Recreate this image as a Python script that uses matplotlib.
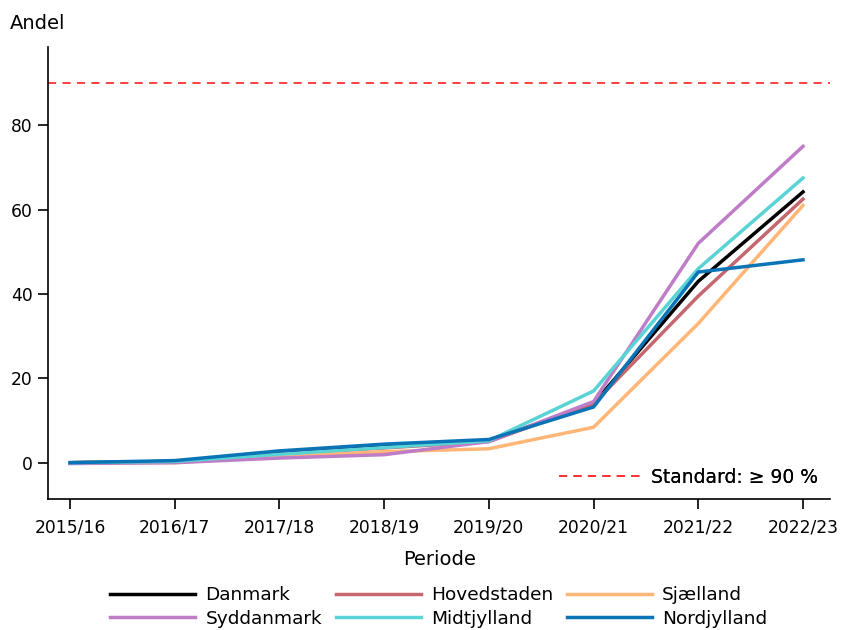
import matplotlib.pyplot as plt
from matplotlib.lines import Line2D

perioder = ["2015/16", "2016/17", "2017/18", "2018/19", "2019/20", "2020/21", "2021/22", "2022/23"]

danmark = [0.0, 0.3, 2.4, 3.9, 5.2, 14.0, 43.0, 64.2]
hovedstaden = [0.0, 0.2, 2.0, 3.5, 5.0, 14.0, 39.5, 62.5]
sjaelland = [0.0, 0.0, 1.6, 2.6, 3.3, 8.4, 33.0, 61.0]
syddanmark = [-0.2, 0.0, 1.1, 1.9, 5.0, 14.5, 52.0, 75.0]
midtjylland = [0.0, 0.3, 2.0, 3.6, 5.2, 17.0, 46.0, 67.5]
nordjylland = [0.0, 0.5, 2.8, 4.4, 5.5, 13.2, 45.2, 48.1]

standard = 90

serier = [
    ("Danmark", danmark, "black"),
    ("Hovedstaden", hovedstaden, "#c5676e"),
    ("Sjælland", sjaelland, "#ffb677"),
    ("Syddanmark", syddanmark, "#bf7cc7"),
    ("Midtjylland", midtjylland, "#5ad3d5"),
    ("Nordjylland", nordjylland, "#0b74b7"),
]

plt.rcParams['font.family'] = 'DejaVu Sans'
fig = plt.figure(figsize=(8.42, 6.3), dpi=100)
ax = fig.add_axes([0.057, 0.208, 0.929, 0.717])

x = list(range(len(perioder)))
handles = {}
for navn, vals, farve in serier:
    h, = ax.plot(x, vals, color=farve, linewidth=2.5, label=navn)
    handles[navn] = h

dash = (0, (4.5, 3.5))
ax.axhline(standard, color="#ff3333", linestyle=dash, linewidth=1.3)

ax.set_xlim(-0.21, 7.26)
ax.set_ylim(-8.6, 98.5)
ax.set_xticks(x)
ax.set_xticklabels(perioder, fontsize=12.3)
ax.set_yticks([0, 20, 40, 60, 80])
ax.tick_params(axis="y", labelsize=12.3, length=7, width=1.2, pad=4)
ax.tick_params(axis="x", length=7, width=1.2, pad=7)
for s in ["top", "right"]:
    ax.spines[s].set_visible(False)
ax.spines["left"].set_linewidth(1.2)
ax.spines["bottom"].set_linewidth(1.2)

ax.set_xlabel("Periode", fontsize=14, labelpad=10)
fig.text(0.012, 0.962, "Andel", fontsize=14, ha="left", va="center")

std_leg = ax.legend([Line2D([], [], color="#ff3333", linestyle=dash, linewidth=1.3)],
                    ["Standard: ≥ 90 %"], loc="lower right", frameon=False, fontsize=13.5,
                    handlelength=4.3, handletextpad=0.6, borderaxespad=0.25)
ax.add_artist(std_leg)

order = ["Danmark", "Syddanmark", "Hovedstaden", "Midtjylland", "Sjælland", "Nordjylland"]
fig.legend([handles[n] for n in order], order, loc="lower center", ncol=3,
           bbox_to_anchor=(0.521, -0.005), frameon=False, fontsize=13.3, handlelength=4.6,
           columnspacing=0.75, labelspacing=0.3, handletextpad=0.55,
           borderaxespad=0.1, borderpad=0.2)

fig.savefig("out.png", dpi=100)
